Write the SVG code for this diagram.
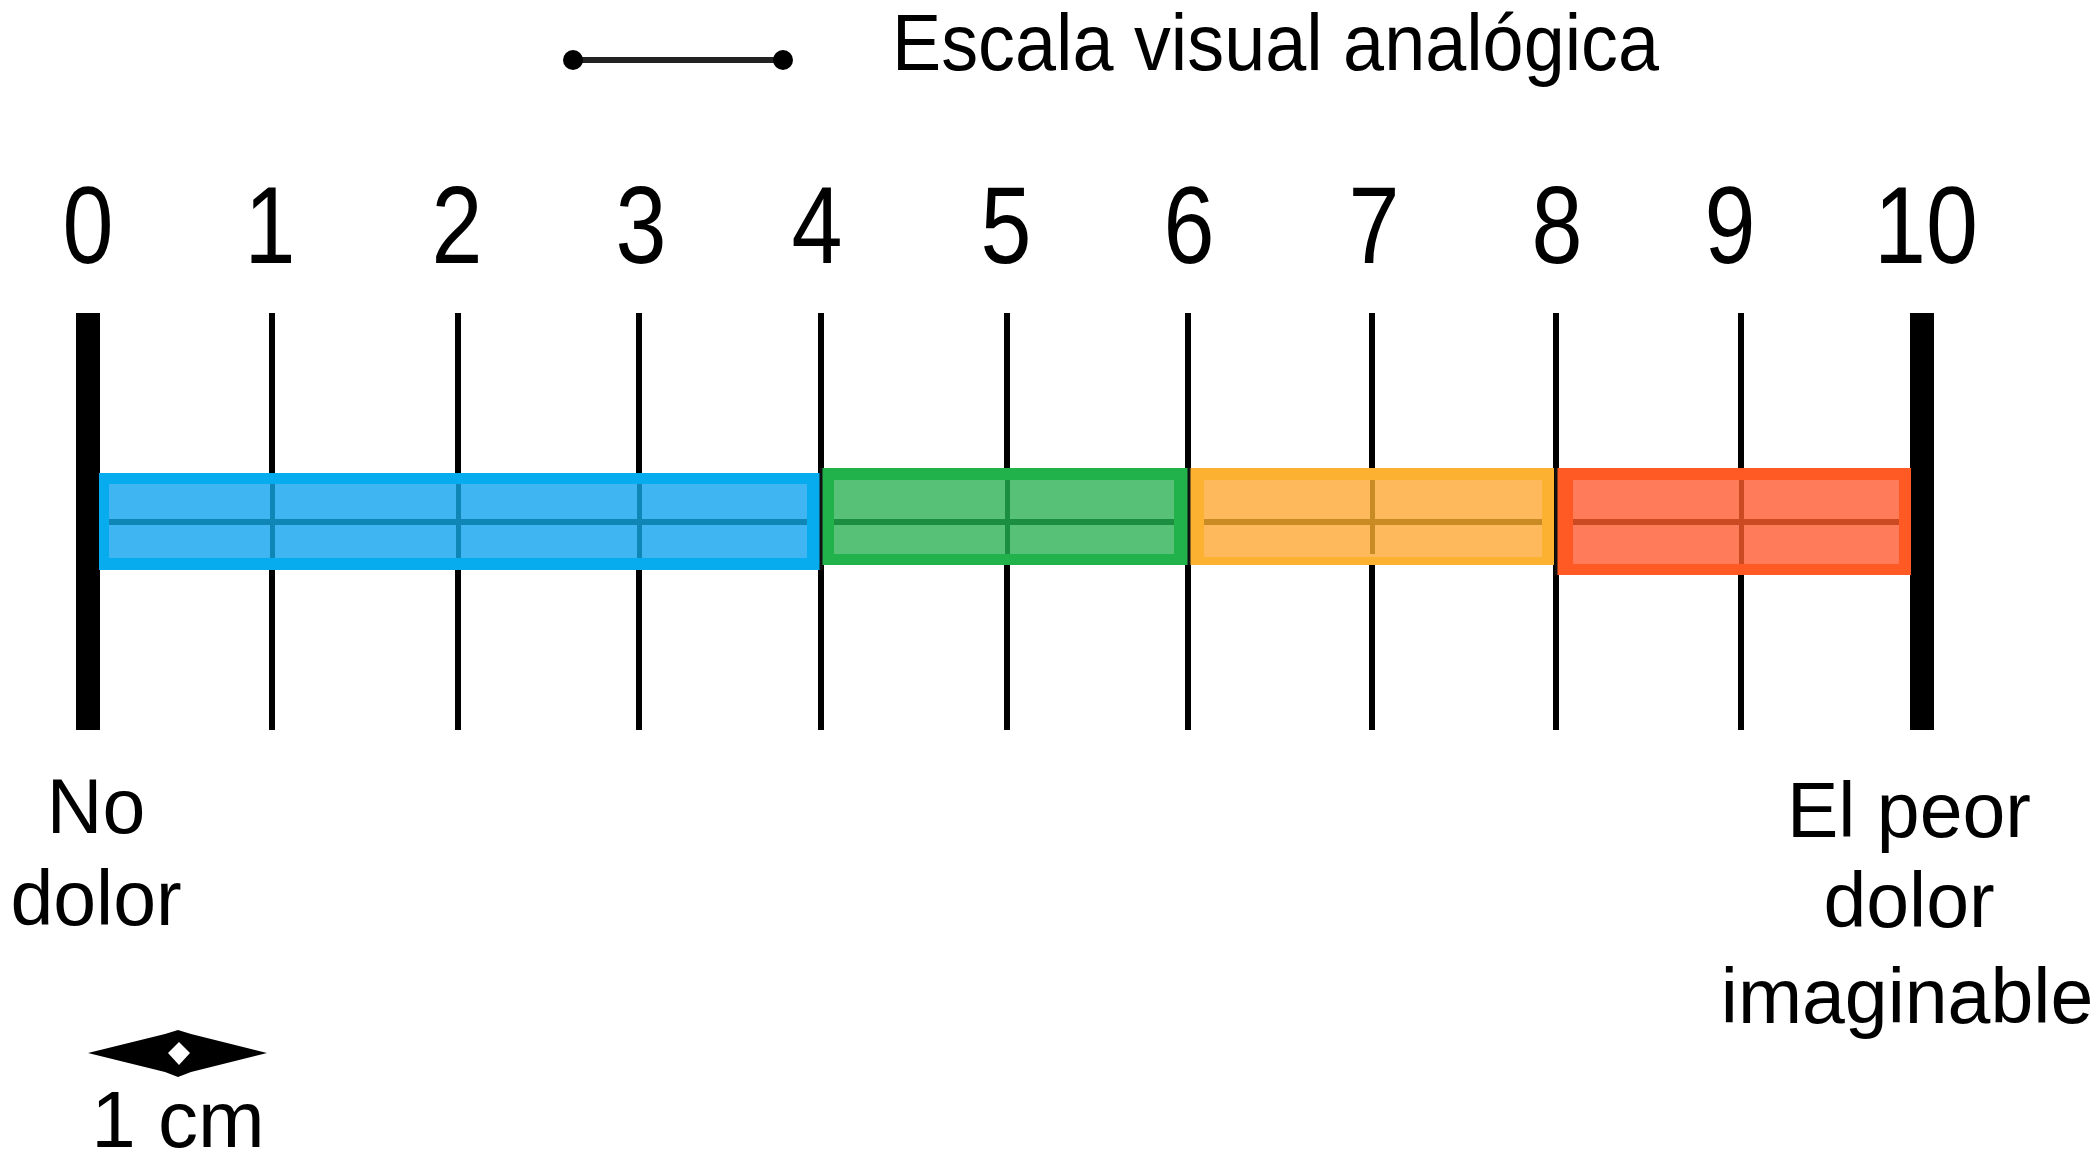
<svg xmlns="http://www.w3.org/2000/svg" width="2099" height="1160" viewBox="0 0 2099 1160">
<style>
.t{font-family:"Liberation Sans",Arial,sans-serif;fill:#000}
.num{font-size:109px;text-anchor:middle}
.lab{font-size:77px;text-anchor:middle}
.tick{stroke:#000;stroke-width:6}
.end{stroke:#000;stroke-width:24}
.sep{stroke:#111;stroke-width:3}
</style>
<rect width="2099" height="1160" fill="#fff"/>
<g id="legend">
<line x1="573" y1="60" x2="783" y2="60" stroke="#222" stroke-width="6"/>
<circle cx="573" cy="60" r="10" fill="#000"/>
<circle cx="783" cy="60" r="10" fill="#000"/>
<text class="t" x="892" y="70" font-size="80" textLength="767" lengthAdjust="spacingAndGlyphs">Escala visual analógica</text>
</g>
<g id="numbers" class="t num">
<text x="88" y="263" textLength="51" lengthAdjust="spacingAndGlyphs">0</text>
<text x="270" y="263" textLength="51" lengthAdjust="spacingAndGlyphs">1</text>
<text x="457" y="263" textLength="51" lengthAdjust="spacingAndGlyphs">2</text>
<text x="641" y="263" textLength="51" lengthAdjust="spacingAndGlyphs">3</text>
<text x="817" y="263" textLength="51" lengthAdjust="spacingAndGlyphs">4</text>
<text x="1006" y="263" textLength="51" lengthAdjust="spacingAndGlyphs">5</text>
<text x="1189" y="263" textLength="51" lengthAdjust="spacingAndGlyphs">6</text>
<text x="1374" y="263" textLength="51" lengthAdjust="spacingAndGlyphs">7</text>
<text x="1557" y="263" textLength="51" lengthAdjust="spacingAndGlyphs">8</text>
<text x="1730" y="263" textLength="51" lengthAdjust="spacingAndGlyphs">9</text>
<text x="1926" y="263" textLength="104" lengthAdjust="spacingAndGlyphs">10</text>
</g>
<g id="ticks">
<line class="end" x1="88" y1="313" x2="88" y2="730"/>
<line class="end" x1="1922" y1="313" x2="1922" y2="730"/>
<line class="tick" x1="272" y1="313" x2="272" y2="730"/>
<line class="tick" x1="458" y1="313" x2="458" y2="730"/>
<line class="tick" x1="639" y1="313" x2="639" y2="730"/>
<line class="tick" x1="821" y1="313" x2="821" y2="730"/>
<line class="tick" x1="1007" y1="313" x2="1007" y2="730"/>
<line class="tick" x1="1188" y1="313" x2="1188" y2="730"/>
<line class="tick" x1="1372" y1="313" x2="1372" y2="730"/>
<line class="tick" x1="1556" y1="313" x2="1556" y2="730"/>
<line class="tick" x1="1741" y1="313" x2="1741" y2="730"/>
</g>
<g id="bar-blue">
<rect x="99" y="473" width="721" height="97" fill="#06acee"/>
<rect x="109" y="484" width="698" height="74" fill="#3fb6f2"/>
<rect x="109" y="519" width="698" height="6" fill="#0f86b5"/>
<rect x="270" y="484" width="5" height="74" fill="#0f86b5"/>
<rect x="456" y="484" width="5" height="74" fill="#0f86b5"/>
<rect x="637" y="484" width="5" height="74" fill="#0f86b5"/>
</g>
<g id="bar-green">
<rect x="822" y="468" width="366" height="97" fill="#22b24c"/>
<rect x="834" y="480" width="340" height="74" fill="#57c178"/>
<rect x="834" y="519" width="340" height="6" fill="#1c8e3f"/>
<rect x="1005" y="480" width="5" height="74" fill="#1c8e3f"/>
</g>
<g id="bar-orange">
<rect x="1190" y="468" width="364" height="97" fill="#fdb130"/>
<rect x="1204" y="480" width="338" height="77" fill="#fdb95c"/>
<rect x="1204" y="519" width="338" height="6" fill="#c98c24"/>
<rect x="1370" y="480" width="5" height="74" fill="#c98c24"/>
</g>
<g id="bar-red">
<rect x="1557" y="468" width="354" height="107" fill="#ff5a24"/>
<rect x="1573" y="480" width="326" height="84" fill="#ff7b5a"/>
<rect x="1573" y="519" width="326" height="6" fill="#cc4a22"/>
<rect x="1739" y="480" width="5" height="84" fill="#cc4a22"/>
</g>
<g id="separators">
<line class="sep" x1="821" y1="468" x2="821" y2="570"/>
<line class="sep" x1="1189" y1="468" x2="1189" y2="565"/>
<line class="sep" x1="1556" y1="468" x2="1556" y2="575"/>
</g>
<g id="label-left" class="t lab">
<text x="96" y="833">No</text>
<text x="96" y="925">dolor</text>
</g>
<g id="label-right" class="t lab">
<text x="1909" y="837">El peor</text>
<text x="1909" y="927">dolor</text>
<text x="1907" y="1023">imaginable</text>
</g>
<g id="scale-1cm">
<path d="M88,1053 L165,1034 L178,1030 L191,1034 L267,1053 L191,1072 L178,1077 L165,1072 Z" fill="#000"/>
<path d="M179,1042 L190,1053 L179,1065 L168,1053 Z" fill="#fff"/>
<text class="t" x="178" y="1147" font-size="80" text-anchor="middle">1 cm</text>
</g>
</svg>
